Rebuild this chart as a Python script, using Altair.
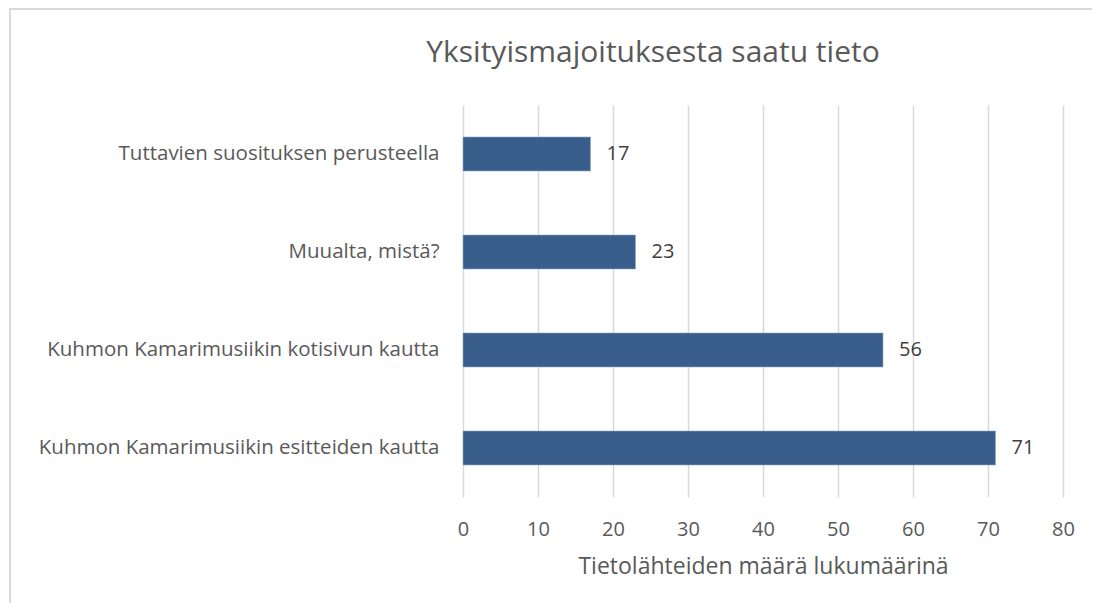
import altair as alt
import pandas as pd

categories = [
    "Tuttavien suosituksen perusteella",
    "Muualta, mistä?",
    "Kuhmon Kamarimusiikin kotisivun kautta",
    "Kuhmon Kamarimusiikin esitteiden  kautta",
]
values = [17, 23, 56, 71]
x_ticks = [0, 10, 20, 30, 40, 50, 60, 70, 80]
title_text = "Yksityismajoituksesta saatu tieto"

df = pd.DataFrame({"cat": categories, "val": values})

FONT = "Open Sans"
GRAY = "#595959"

y_enc = alt.Y(
    "cat:N",
    sort=categories,
    scale=alt.Scale(paddingInner=0.653, paddingOuter=0.3265),
    axis=alt.Axis(
        title=None, domain=False, ticks=False, grid=False,
        labelFont=FONT, labelFontSize=20.5, labelColor=GRAY,
        labelPadding=24, labelLimit=500,
    ),
)
x_enc = alt.X(
    "val:Q",
    scale=alt.Scale(domain=[0, 80], nice=False),
    axis=alt.Axis(
        values=x_ticks, title="Tietolähteiden määrä lukumäärinä",
        domain=False, ticks=False, grid=True, gridColor="#D9D9D9", gridWidth=1.5,
        labelFont=FONT, labelFontSize=20, labelColor=GRAY, labelPadding=22,
        labelFlush=False,
        titleFont=FONT, titleFontSize=23, titleColor=GRAY, titleFontWeight="normal",
        titlePadding=16,
    ),
)

bars = alt.Chart(df).mark_bar(color="#3A5E8C", stroke="#8FA8C8", strokeWidth=0.6).encode(
    x=x_enc, y=y_enc
)
labels = alt.Chart(df).mark_text(
    align="left", baseline="middle", dx=16, font=FONT, fontSize=20, color="#404040"
).encode(x="val:Q", y=alt.Y("cat:N", sort=categories), text="val:Q")

border = alt.Chart(df).mark_rect(
    fill=None, fillOpacity=0, stroke="#D9D9D9", strokeWidth=1.5
).encode(
    x=alt.value(-453), x2=alt.value(700), y=alt.value(-96), y2=alt.value(640)
)

title = alt.Chart(pd.DataFrame({"t": [title_text]})).mark_text(
    font=FONT, fontSize=30, color=GRAY, align="center", baseline="alphabetic"
).encode(x=alt.value(190), y=alt.value(-43), text="t:N")

chart = alt.layer(border, bars, labels, title).properties(
    width=600,
    height=392,
    autosize=alt.AutoSizeParams(type="none"),
    padding={"left": 455, "top": 97, "right": 29, "bottom": 106},
).configure_view(stroke=None)

chart.save("out.html", embed_options={"renderer": "svg", "actions": False})
